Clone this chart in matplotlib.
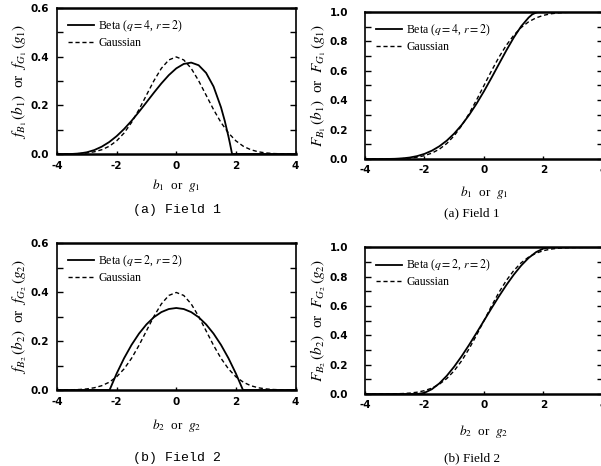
import matplotlib.pyplot as plt
from matplotlib.ticker import MultipleLocator

plt.rcParams['mathtext.fontset'] = 'stix'
plt.rcParams['font.family'] = 'Liberation Serif'
plt.rcParams['axes.unicode_minus'] = False

# Gaussian reference curves on a 0.25 grid
x_gauss = [-4, -3.75, -3.5, -3.25, -3, -2.75, -2.5, -2.25, -2, -1.75, -1.5, -1.25, -1,
           -0.75, -0.5, -0.25, 0, 0.25, 0.5, 0.75, 1, 1.25, 1.5, 1.75, 2, 2.25, 2.5,
           2.75, 3, 3.25, 3.5, 3.75, 4]
pdf_gauss = [0.0001, 0.0004, 0.0009, 0.0020, 0.0044, 0.0091, 0.0175, 0.0317, 0.0540,
             0.0863, 0.1295, 0.1826, 0.2420, 0.3011, 0.3521, 0.3867, 0.3989, 0.3867,
             0.3521, 0.3011, 0.2420, 0.1826, 0.1295, 0.0863, 0.0540, 0.0317, 0.0175,
             0.0091, 0.0044, 0.0020, 0.0009, 0.0004, 0.0001]
cdf_gauss = [0.0000, 0.0001, 0.0002, 0.0006, 0.0013, 0.0030, 0.0062, 0.0122, 0.0228,
             0.0401, 0.0668, 0.1056, 0.1587, 0.2266, 0.3085, 0.4013, 0.5000, 0.5987,
             0.6915, 0.7734, 0.8413, 0.8944, 0.9332, 0.9599, 0.9772, 0.9878, 0.9938,
             0.9970, 0.9987, 0.9994, 0.9998, 0.9999, 1.0000]

# Field 1: Beta(q=4, r=2)
x_beta1 = [-4, -3.742, -3.5, -3.25, -3, -2.75, -2.5, -2.25, -2, -1.75, -1.5, -1.25, -1,
           -0.75, -0.5, -0.25, 0, 0.25, 0.5, 0.75, 1, 1.25, 1.5, 1.625, 1.75, 1.8,
           1.871, 4]
pdf_beta1 = [0, 0, 0.0003, 0.0022, 0.0071, 0.0162, 0.0301, 0.0491, 0.0734, 0.1027,
             0.1364, 0.1734, 0.2125, 0.2520, 0.2900, 0.3242, 0.3520, 0.3702, 0.3757,
             0.3648, 0.3334, 0.2773, 0.1918, 0.1364, 0.0718, 0.0433, 0, 0]
cdf_beta1 = [0, 0, 0.0000, 0.0003, 0.0014, 0.0042, 0.0099, 0.0196, 0.0349, 0.0568,
             0.0866, 0.1252, 0.1734, 0.2315, 0.2993, 0.3762, 0.4609, 0.5514, 0.6450,
             0.7379, 0.8256, 0.9025, 0.9618, 0.9840, 0.9955, 0.9985, 1, 1]

# Field 2: Beta(q=2, r=2)
x_beta2 = [-4, -2.236, -2, -1.75, -1.5, -1.25, -1, -0.75, -0.5, -0.25, 0, 0.25, 0.5,
           0.75, 1, 1.25, 1.5, 1.75, 2, 2.236, 4]
pdf_beta2 = [0, 0, 0.0671, 0.1300, 0.1845, 0.2306, 0.2683, 0.2977, 0.3186, 0.3312,
             0.3354, 0.3312, 0.3186, 0.2977, 0.2683, 0.2306, 0.1845, 0.1300, 0.0671,
             0, 0]
cdf_beta2 = [0, 0, 0.0081, 0.0329, 0.0724, 0.1244, 0.1870, 0.2579, 0.3351, 0.4165,
             0.5000, 0.5835, 0.6649, 0.7421, 0.8130, 0.8756, 0.9276, 0.9671, 0.9919,
             1, 1]

fig = plt.figure(figsize=(6.01, 4.66), dpi=100)

panels = [
    # rect, x, beta, gauss, ymax, ylabel, xlabel, legend, caption, caption xy, caption font,
    # y tick pad, x tick pad, xlabel pad
    ([0.0948, 0.6695, 0.397, 0.3133], x_beta1, pdf_beta1, pdf_gauss, 0.6,
     r'$f_{B_1}\,(b_1)$  or  $f_{G_1}\,(g_1)$', r'$b_1$  or  $g_1$', r'Beta ($q=4$, $r=2$)',
     '(a) Field 1', (0.295, 0.549), 'Liberation Mono', 6, 5, 4),
    ([0.6073, 0.6588, 0.396, 0.3155], x_beta1, cdf_beta1, cdf_gauss, 1.0,
     r'$F_{B_1}\,(b_1)$  or  $F_{G_1}\,(g_1)$', r'$b_1$  or  $g_1$', r'Beta ($q=4$, $r=2$)',
     '(a) Field 1', (0.785, 0.543), 'Liberation Serif', 12, 4, 7),
    ([0.0948, 0.1631, 0.397, 0.3148], x_beta2, pdf_beta2, pdf_gauss, 0.6,
     r'$f_{B_2}\,(b_2)$  or  $f_{G_2}\,(g_2)$', r'$b_2$  or  $g_2$', r'Beta ($q=2$, $r=2$)',
     '(b) Field 2', (0.295, 0.018), 'Liberation Mono', 6, 5, 7),
    ([0.6073, 0.1545, 0.396, 0.3148], x_beta2, cdf_beta2, cdf_gauss, 1.0,
     r'$F_{B_2}\,(b_2)$  or  $F_{G_2}\,(g_2)$', r'$b_2$  or  $g_2$', r'Beta ($q=2$, $r=2$)',
     '(b) Field 2', (0.785, 0.016), 'Liberation Serif', 12, 4, 10),
]

for (rect, xb, yb, yg, ymax, ylab, xlab, beta_lab, caption, cpos, cfont,
     ypad, xpad, xlpad) in panels:
    ax = fig.add_axes(rect)
    ax.plot(xb, yb, color='black', lw=1.3, label=beta_lab)
    ax.plot(x_gauss, yg, color='black', lw=1.0, linestyle=(0, (3, 2)), label='Gaussian')
    ax.set_xlim(-4, 4)
    ax.set_ylim(0, ymax)
    ax.xaxis.set_major_locator(MultipleLocator(2))
    ax.yaxis.set_major_locator(MultipleLocator(0.2))
    ax.yaxis.set_minor_locator(MultipleLocator(0.1))
    ax.tick_params(axis='both', which='both', direction='in', left=True, right=True,
                   labelsize=7.5, width=1.0)
    ax.tick_params(axis='x', which='both', top=False, length=2, pad=xpad)
    ax.tick_params(axis='y', which='both', length=4, pad=ypad)
    for lbl in ax.get_xticklabels() + ax.get_yticklabels():
        lbl.set_fontfamily('DejaVu Sans')
        lbl.set_fontweight('bold')
    ax.yaxis.set_major_formatter(plt.FormatStrFormatter('%.1f'))
    ax.xaxis.set_major_formatter(plt.FormatStrFormatter('%d'))
    for side in ['top', 'bottom']:
        ax.spines[side].set_linewidth(1.8)
    for side in ['left', 'right']:
        ax.spines[side].set_linewidth(1.2)
    ax.set_ylabel(ylab, fontsize=11, labelpad=1)
    ax.set_xlabel(xlab, fontsize=9.5, labelpad=xlpad)
    ax.legend(loc='upper left', frameon=False, fontsize=8.5, handlelength=2.2,
              handletextpad=0.4, labelspacing=0.25, borderaxespad=0.5)
    fig.text(cpos[0], cpos[1], caption, ha='center', va='center',
             fontsize=9.5, family=cfont)

fig.savefig('out.png', dpi=100)
